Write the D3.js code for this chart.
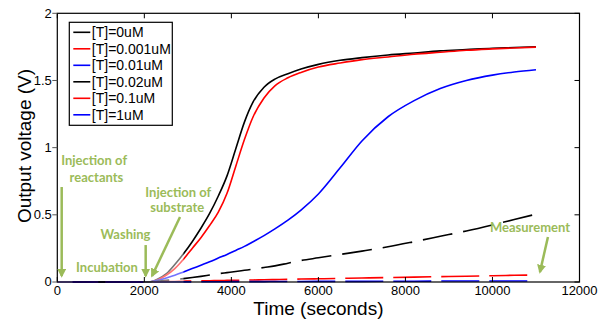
<!DOCTYPE html>
<html>
<head>
<meta charset="utf-8">
<script src="https://cdn.jsdelivr.net/npm/d3@7"></script>
<style>
  body { margin: 0; background: #fff; }
  svg { display: block; }
  .tick-label { font-family: "Liberation Sans", Arial, sans-serif; font-size: 13px; fill: #000; }
  .axis-title { font-family: "Liberation Sans", Arial, sans-serif; fill: #000; }
  .legend-text { font-family: "Liberation Sans", Arial, sans-serif; font-size: 14px; fill: #000; }
  .note { font-family: Lato, "Open Sans", sans-serif; font-weight: 700; font-size: 13px; fill: #9bbb59; }
</style>
</head>
<body>
<div id="chart"></div>
<script>
// time points (seconds) shared by all series
const times = [0, 2000, 2100, 2300, 2500, 2700, 2900, 3100, 3300, 3500, 3700, 3900, 4100, 4300, 4500, 4750, 5000, 5300, 5600, 6000, 6500, 7000, 7600, 8200, 8800, 9400, 10000, 10500, 11000];

// output voltage (V) for each target concentration
const v0uM    = [0, 0, 0, 0.02, 0.06, 0.13, 0.21, 0.30, 0.40, 0.51, 0.64, 0.79, 0.99, 1.19, 1.34, 1.45, 1.51, 1.55, 1.585, 1.62, 1.65, 1.67, 1.69, 1.705, 1.72, 1.73, 1.74, 1.745, 1.75];
const v0001uM = [0, 0, 0, 0.015, 0.05, 0.10, 0.17, 0.25, 0.33, 0.42, 0.52, 0.66, 0.86, 1.06, 1.23, 1.37, 1.46, 1.52, 1.56, 1.60, 1.63, 1.655, 1.675, 1.695, 1.71, 1.725, 1.735, 1.742, 1.748];
const v001uM  = [0, 0, 0, 0.012, 0.03, 0.05, 0.075, 0.10, 0.125, 0.15, 0.178, 0.205, 0.235, 0.265, 0.30, 0.345, 0.395, 0.46, 0.535, 0.655, 0.85, 1.05, 1.23, 1.35, 1.44, 1.50, 1.54, 1.563, 1.58];
const v002uM  = [0, 0, 0, 0.006, 0.012, 0.018, 0.025, 0.033, 0.042, 0.052, 0.062, 0.07, 0.078, 0.087, 0.096, 0.108, 0.12, 0.14, 0.16, 0.18, 0.205, 0.23, 0.262, 0.30, 0.34, 0.38, 0.425, 0.465, 0.505];
const v01uM   = [0, 0, 0, 0.001, 0.003, 0.004, 0.006, 0.007, 0.008, 0.009, 0.011, 0.012, 0.013, 0.014, 0.015, 0.017, 0.018, 0.02, 0.022, 0.024, 0.027, 0.03, 0.033, 0.036, 0.04, 0.043, 0.047, 0.05, 0.052];
const v1uM    = [0, 0, 0, 0, 0, 0.001, 0.001, 0.001, 0.002, 0.002, 0.002, 0.002, 0.003, 0.003, 0.003, 0.003, 0.004, 0.004, 0.004, 0.005, 0.005, 0.005, 0.006, 0.006, 0.007, 0.007, 0.007, 0.008, 0.008];

const seriesNames = ['[T]=0uM', '[T]=0.001uM', '[T]=0.01uM', '[T]=0.02uM', '[T]=0.1uM', '[T]=1uM'];
const seriesValues = [v0uM, v0001uM, v001uM, v002uM, v01uM, v1uM];
const seriesColors = ['#000000', '#ff0000', '#0000ff', '#000000', '#ff0000', '#0000ff'];
const seriesDash = [null, null, null, '30,11', '38,10', '38,10'];

const xTicks = [0, 2000, 4000, 6000, 8000, 10000, 12000];
const yTicks = [0, 0.5, 1, 1.5, 2];

// annotation texts and arrows, placed in data units
const notes = [
  { text: 'Injection of', t: 846, v: 0.871 },
  { text: 'reactants', t: 900, v: 0.747 },
  { text: 'Incubation', t: 1142, v: 0.077 },
  { text: 'Washing', t: 1567, v: 0.32 },
  { text: 'Injection of', t: 2780, v: 0.635 },
  { text: 'substrate', t: 2757, v: 0.523 },
  { text: 'Measurement', t: 10862, v: 0.374 }
];
const arrows = [
  { t1: 101, v1: 0.707, t2: 101, v2: 0.045 },
  { t1: 2031, v1: 0.275, t2: 2031, v2: 0.045 },
  { t1: 2820, v1: 0.484, t2: 2176, v2: 0.045 },
  { t1: 11275, v1: 0.335, t2: 11091, v2: 0.074 }
];

const width = 609, height = 320;
const margin = { top: 13.3, right: 29.5, bottom: 38, left: 57.3 };
const innerW = width - margin.left - margin.right;
const innerH = height - margin.top - margin.bottom;

const svg = d3.select('#chart').append('svg')
  .attr('width', width)
  .attr('height', height);

const x = d3.scaleLinear().domain([0, 12000]).range([0, innerW]);
const y = d3.scaleLinear().domain([0, 2]).range([innerH, 0]);

const defs = svg.append('defs');
defs.append('marker')
  .attr('id', 'arrowhead')
  .attr('viewBox', '0 0 10 10')
  .attr('refX', 8).attr('refY', 5)
  .attr('markerWidth', 3.6).attr('markerHeight', 3.6)
  .attr('orient', 'auto')
  .append('path')
    .attr('d', 'M0,0 L10,5 L0,10 z')
    .attr('fill', '#9bbb59');

const chart = svg.append('g')
  .attr('transform', `translate(${margin.left},${margin.top})`);

// series lines
const line = d3.line()
  .x((d, i) => x(times[i]))
  .y(d => y(d))
  .curve(d3.curveMonotoneX);

chart.selectAll('.series')
  .data(seriesValues)
  .join('path')
    .attr('class', 'series')
    .attr('fill', 'none')
    .attr('stroke', (d, i) => seriesColors[i])
    .attr('stroke-width', 1.6)
    .attr('stroke-dasharray', (d, i) => seriesDash[i])
    .attr('d', line);

// faint white backgrounds of the pasted annotation images
const patches = [
  { t1: -150, t2: 350, v1: -0.02, v2: 0.87 },
  { t1: 1980, t2: 2900, v1: -0.02, v2: 0.22 },
  { t1: 10900, t2: 11400, v1: -0.02, v2: 0.15 }
];
chart.selectAll('.patch')
  .data(patches)
  .join('rect')
    .attr('class', 'patch')
    .attr('x', d => x(d.t1))
    .attr('y', d => y(d.v2))
    .attr('width', d => x(d.t2) - x(d.t1))
    .attr('height', d => y(d.v1) - y(d.v2))
    .attr('fill', '#fff')
    .attr('opacity', 0.45);

// frame
chart.append('rect')
  .attr('width', innerW)
  .attr('height', innerH)
  .attr('fill', 'none')
  .attr('stroke', '#000')
  .attr('stroke-width', 1.2);

// ticks: bottom/top/right inward, left outward
const tickLen = 5;
chart.selectAll('.xtick-b')
  .data(xTicks)
  .join('line')
    .attr('x1', d => x(d)).attr('x2', d => x(d))
    .attr('y1', innerH).attr('y2', innerH - tickLen)
    .attr('stroke', '#000');
chart.selectAll('.xtick-t')
  .data(xTicks)
  .join('line')
    .attr('class', 'xtick-t')
    .attr('x1', d => x(d)).attr('x2', d => x(d))
    .attr('y1', 0).attr('y2', tickLen)
    .attr('stroke', '#000');
chart.selectAll('.ytick-r')
  .data(yTicks)
  .join('line')
    .attr('class', 'ytick-r')
    .attr('x1', innerW).attr('x2', innerW - tickLen)
    .attr('y1', d => y(d)).attr('y2', d => y(d))
    .attr('stroke', '#000');
chart.selectAll('.ytick-l')
  .data(yTicks)
  .join('line')
    .attr('class', 'ytick-l')
    .attr('x1', 0).attr('x2', -tickLen)
    .attr('y1', d => y(d)).attr('y2', d => y(d))
    .attr('stroke', '#555');

// tick labels
chart.selectAll('.xlabel')
  .data(xTicks)
  .join('text')
    .attr('class', 'tick-label xlabel')
    .attr('x', d => x(d))
    .attr('y', innerH + 13.5)
    .attr('text-anchor', 'middle')
    .text(d => d);
chart.selectAll('.ylabel')
  .data(yTicks)
  .join('text')
    .attr('class', 'tick-label ylabel')
    .attr('x', -5.5)
    .attr('y', d => y(d) + 4.5)
    .attr('text-anchor', 'end')
    .text(d => d);

// axis titles
svg.append('text')
  .attr('class', 'axis-title')
  .attr('x', margin.left + innerW / 2)
  .attr('y', 315)
  .attr('text-anchor', 'middle')
  .attr('font-size', 19)
  .text('Time (seconds)');
svg.append('text')
  .attr('class', 'axis-title')
  .attr('transform', 'translate(31,146) rotate(-90)')
  .attr('text-anchor', 'middle')
  .attr('font-size', 19)
  .text('Output voltage (V)');

// legend
const legend = chart.append('g')
  .attr('transform', 'translate(12,9)');
legend.append('rect')
  .attr('width', 103)
  .attr('height', 103)
  .attr('fill', '#fff')
  .attr('stroke', '#000')
  .attr('stroke-width', 1.2);
const rows = legend.selectAll('.legend-row')
  .data(seriesNames)
  .join('g')
    .attr('class', 'legend-row')
    .attr('transform', (d, i) => `translate(0,${10 + i * 16.5})`);
rows.append('line')
  .attr('x1', 4).attr('x2', 21)
  .attr('stroke', (d, i) => seriesColors[i])
  .attr('stroke-width', 1.6);
rows.append('text')
  .attr('class', 'legend-text')
  .attr('x', 22.5)
  .attr('y', 5)
  .text(d => d);

// annotations
chart.selectAll('.arrow')
  .data(arrows)
  .join('line')
    .attr('class', 'arrow')
    .attr('x1', d => x(d.t1)).attr('y1', d => y(d.v1))
    .attr('x2', d => x(d.t2)).attr('y2', d => y(d.v2))
    .attr('stroke', '#9bbb59')
    .attr('stroke-width', 2.5)
    .attr('marker-end', 'url(#arrowhead)');
chart.selectAll('.note')
  .data(notes)
  .join('text')
    .attr('class', 'note')
    .attr('x', d => x(d.t))
    .attr('y', d => y(d.v))
    .attr('text-anchor', 'middle')
    .text(d => d.text);
</script>
</body>
</html>
